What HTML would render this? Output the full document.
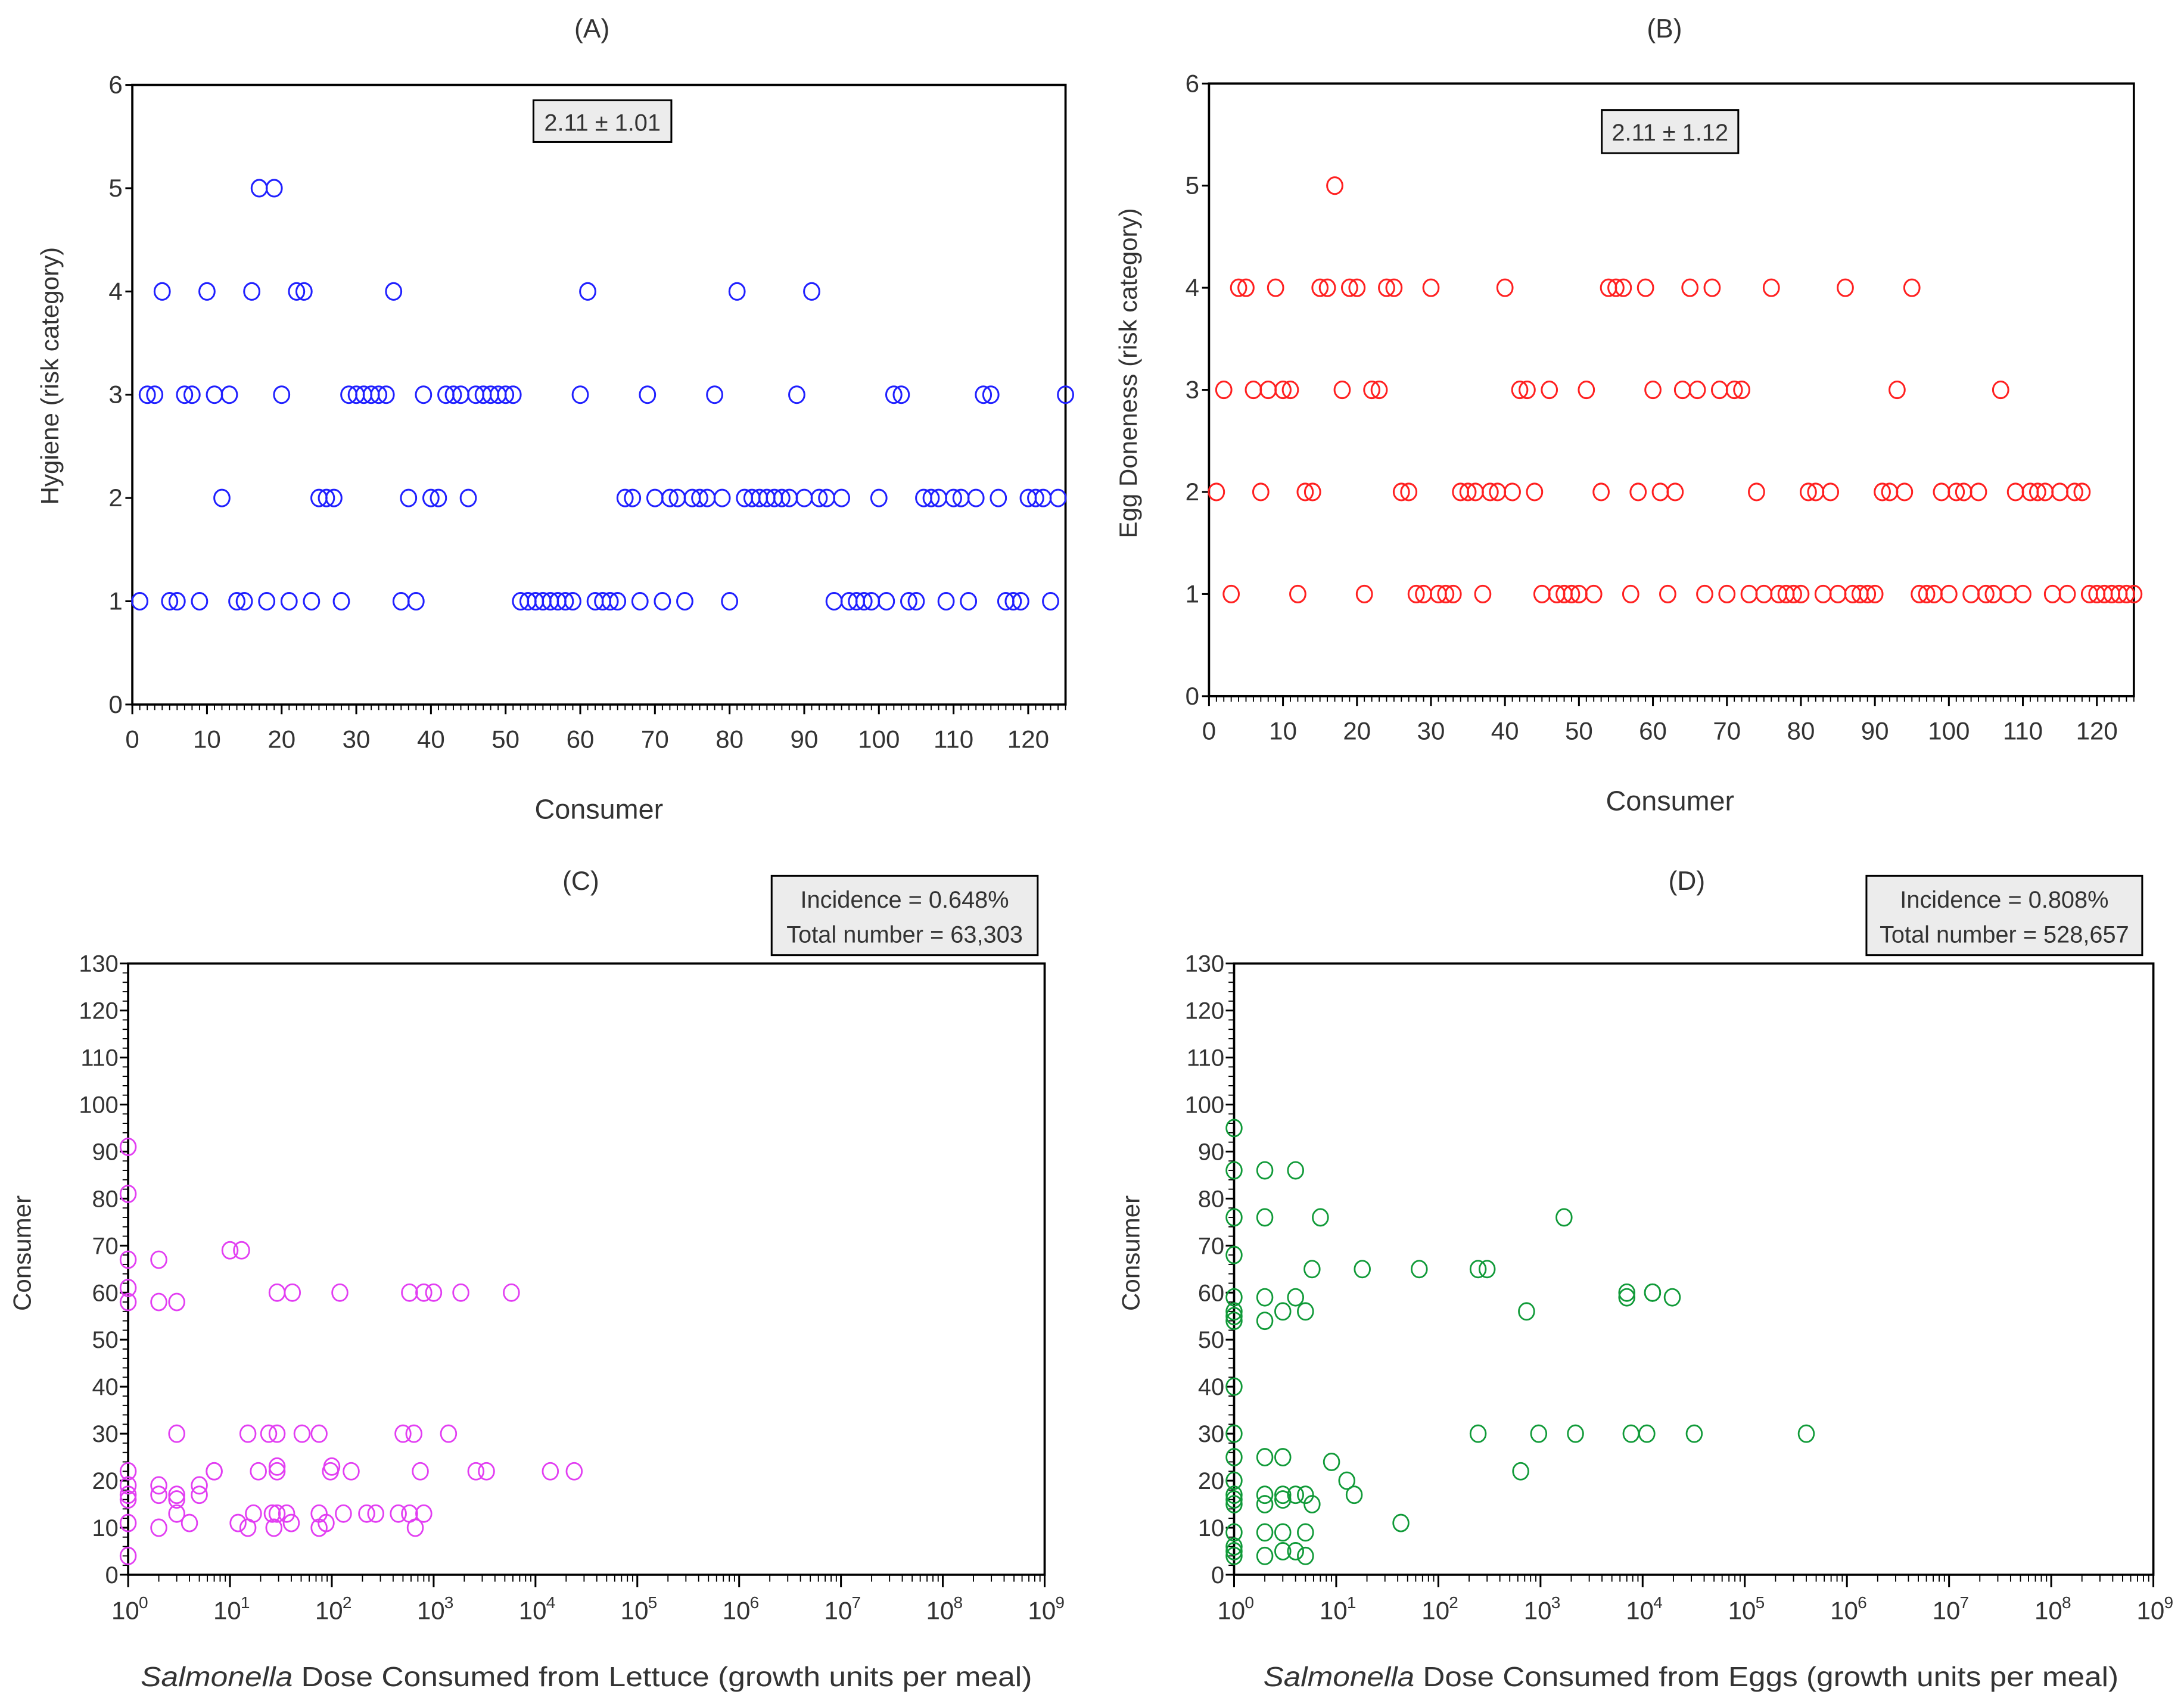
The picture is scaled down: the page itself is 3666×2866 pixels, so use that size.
<!DOCTYPE html>
<html><head><meta charset="utf-8"><style>
html,body{margin:0;padding:0;background:#fff;}
svg{display:block;}
text{font-family:"Liberation Sans",sans-serif;fill:#333;}
</style></head><body>
<svg id="fig" xmlns="http://www.w3.org/2000/svg" width="3666" height="2866" viewBox="0 0 1568 1226" preserveAspectRatio="none">
<rect x="0" y="0" width="1568" height="1226" fill="#fff"/>
<text x="425" y="27" font-size="19" text-anchor="middle">(A)</text>
<text x="1195" y="27" font-size="19" text-anchor="middle">(B)</text>
<text x="417" y="639" font-size="19" text-anchor="middle">(C)</text>
<text x="1211" y="639" font-size="19" text-anchor="middle">(D)</text>
<text x="430" y="588" font-size="20" text-anchor="middle">Consumer</text>
<text x="1199" y="582" font-size="20" text-anchor="middle">Consumer</text>
<text transform="translate(42,270) rotate(-90)" font-size="18" text-anchor="middle">Hygiene (risk category)</text>
<text transform="translate(816,268) rotate(-90)" font-size="18" text-anchor="middle">Egg Doneness (risk category)</text>
<text transform="translate(22,900) rotate(-90)" font-size="18" text-anchor="middle">Consumer</text>
<text transform="translate(818,900) rotate(-90)" font-size="18" text-anchor="middle">Consumer</text>
<text x="421" y="1211" font-size="20" text-anchor="middle" textLength="640" lengthAdjust="spacingAndGlyphs"><tspan font-style="italic">Salmonella</tspan> Dose Consumed from Lettuce (growth units per meal)</text>
<text x="1214" y="1211" font-size="20" text-anchor="middle" textLength="614" lengthAdjust="spacingAndGlyphs"><tspan font-style="italic">Salmonella</tspan> Dose Consumed from Eggs (growth units per meal)</text>
<g><rect x="383" y="72" width="99" height="30" fill="#ececec" stroke="#000" stroke-width="1.3"/><text x="432.5" y="94" font-size="17" text-anchor="middle">2.11 ± 1.01</text></g>
<g><rect x="1150" y="79" width="98" height="31" fill="#ececec" stroke="#000" stroke-width="1.3"/><text x="1199" y="101" font-size="17" text-anchor="middle">2.11 ± 1.12</text></g>
<g><rect x="554" y="629" width="191" height="57" fill="#ececec" stroke="#000" stroke-width="1.3"/><text x="649.5" y="652" font-size="17" text-anchor="middle">Incidence = 0.648%</text><text x="649.5" y="677" font-size="17" text-anchor="middle">Total number = 63,303</text></g>
<g><rect x="1340" y="629" width="198" height="57" fill="#ececec" stroke="#000" stroke-width="1.3"/><text x="1439" y="652" font-size="17" text-anchor="middle">Incidence = 0.808%</text><text x="1439" y="677" font-size="17" text-anchor="middle">Total number = 528,657</text></g>
</svg>
<script>
// Panel A: consumers at each hygiene level
const aLevel5 = [17,19];
const aLevel4 = [4,10,16,22,23,35,61,81,91];
const aLevel3 = [2,3,7,8,11,13,20,29,30,31,32,33,34,39,42,43,44,46,47,48,49,50,51,60,69,78,89,102,103,114,115,125];
const aLevel2 = [12,25,26,27,37,40,41,45,66,67,70,72,73,75,76,77,79,82,83,84,85,86,87,88,90,92,93,95,100,106,107,108,110,111,113,116,120,121,122,124];
const aLevel1 = [1,5,6,9,14,15,18,21,24,28,36,38,52,53,54,55,56,57,58,59,62,63,64,65,68,71,74,80,94,96,97,98,99,101,104,105,109,112,117,118,119,123];
// Panel B: consumers at each egg doneness level
const bLevel5 = [17];
const bLevel4 = [4,5,9,15,16,19,20,24,25,30,40,54,55,56,59,65,68,76,86,95];
const bLevel3 = [2,6,8,10,11,18,22,23,42,43,46,51,60,64,66,69,71,72,93,107];
const bLevel2 = [1,7,13,14,26,27,34,35,36,38,39,41,44,53,58,61,63,74,81,82,84,91,92,94,99,101,102,104,109,111,112,113,115,117,118];
const bLevel1 = [3,12,21,28,29,31,32,33,37,45,47,48,49,50,52,57,62,67,70,73,75,77,78,79,80,83,85,87,88,89,90,96,97,98,100,103,105,106,108,110,114,116,119,120,121,122,123,124,125];
// Panel C: lettuce doses and consumers
const cDose = [1,1,1,1,1,1,1,1,1,1,1, 2,2,2,2,2, 3,3,3,3,3, 4,5,5,7, 10,13,
  15,24,29,51,75,500,640,1400,
  29,41,120,580,800,1000,1850,5800,
  7,19,29,97,155,740,2600,3300,14000,24000, 29,100,
  17,26,29,36,75,130,220,270,450,580,800,
  12,15,27,40,75,88,660];
const cConsumer = [91,81,67,61,58,22,19,17,16,11,4, 67,58,19,17,10, 58,30,17,16,13, 11,19,17,22, 69,69,
  30,30,30,30,30,30,30,30,
  60,60,60,60,60,60,60,60,
  22,22,22,22,22,22,22,22,22,22, 23,23,
  13,13,13,13,13,13,13,13,13,13,13,
  11,10,10,11,10,11,10];
// Panel D: egg doses and consumers
const dDose = [1,1,1,1,1,1,1,1,1,1,1,1,1,1,1,1,1,1,1,
  2,2,2,2,2,2,2,2,2, 3,3,3,3,3,3, 4,4,4,4, 5,5,5,5, 5.8,5.8, 7,9,12.7,15,18,43,65,245,245,300,640,730,960,1700,2200,7000,7000,7700,11000,12500,12500,19500,32000,400000];
const dConsumer = [95,86,76,68,59,56,55,54,40,30,25,20,17,16,15,9,6,5,4,
  86,76,59,54,25,17,15,9,4, 56,25,17,16,9,5, 86,59,17,5, 56,17,9,4, 65,15, 76,24,20,17,65,11,65,65,30,65,22,56,30,76,30,60,59,30,30,60,60,59,30,30];
const aYTicks = [0,1,2,3,4,5,6];
const xTicksCons = [0,10,20,30,40,50,60,70,80,90,100,110,120];
const cYTicks = [0,10,20,30,40,50,60,70,80,90,100,110,120,130];
const logTicks = [0,1,2,3,4,5,6,7,8,9];

const NS = 'http://www.w3.org/2000/svg';
const svg = document.getElementById('fig');
function mk(tag, attrs, parent){
  const e = document.createElementNS(NS, tag);
  for (const k in attrs) e.setAttribute(k, attrs[k]);
  (parent||svg).appendChild(e);
  return e;
}
function linScale(d0,d1,r0,r1){return v => r0 + (v-d0)/(d1-d0)*(r1-r0);}
function logScale(e0,e1,r0,r1){return v => r0 + (Math.log10(v)-e0)/(e1-e0)*(r1-r0);}

function frame(name, L,T,R,B){
  const g = mk('g',{});
  
  
  mk('rect',{x:L,y:T,width:R-L,height:B-T,fill:'none',stroke:'#000','stroke-width':1.6},g);
  return g;
}

function catPanel(p, L,T,R,B, levels, color, tickY){
  const x = linScale(0,125,L,R), y = linScale(0,6,B,T);
  frame('panel-'+p+'-plot-area', L,T,R,B);
  const ax = mk('g',{});
  
  
  aYTicks.forEach(v=>{
    mk('line',{x1:L-5,x2:L,y1:y(v),y2:y(v),stroke:'#000','stroke-width':1.3},ax);
    const t = mk('text',{x:L-7,y:y(v)+6,'font-size':18,'text-anchor':'end'},ax);
    t.textContent = v;
  });
  for(let i=0;i<=125;i++){
    const major = i%10===0;
    mk('line',{x1:x(i),x2:x(i),y1:B,y2:B+(major?7:4),stroke:'#000','stroke-width':major?1.3:0.8},ax);
  }
  xTicksCons.forEach(v=>{
    const t = mk('text',{x:x(v),y:tickY,'font-size':18,'text-anchor':'middle'},ax);
    t.textContent = v;
  });
  const pts = mk('g',{});
  
  
  levels.forEach((arr,li)=>{
    const lvl = levels.length - li;
    arr.forEach(c=>{
      const e = mk('ellipse',{cx:x(c),cy:y(lvl),rx:5.5,ry:6,fill:'none',stroke:color,'stroke-width':1.3},pts);
      
      
    });
  });
}

function logPanel(p, L,T,R,B, doses, cons, color){
  const x = logScale(0,9,L,R), y = linScale(0,130,B,T);
  frame('panel-'+p+'-plot-area', L,T,R,B);
  const ax = mk('g',{});
  
  
  for(let v=0; v<=130; v+=2){
    const major = v%10===0;
    mk('line',{x1:L-(major?6:4),x2:L,y1:y(v),y2:y(v),stroke:'#000','stroke-width':major?1.3:0.8},ax);
  }
  cYTicks.forEach(v=>{
    const t = mk('text',{x:L-7,y:y(v)+6,'font-size':17,'text-anchor':'end'},ax);
    t.textContent = v;
  });
  logTicks.forEach(e=>{
    mk('line',{x1:x(Math.pow(10,e)),x2:x(Math.pow(10,e)),y1:B,y2:B+9,stroke:'#000','stroke-width':1.3},ax);
    if(e<9) for(let m=2;m<=9;m++){
      const xv = x(m*Math.pow(10,e));
      mk('line',{x1:xv,x2:xv,y1:B,y2:B+5,stroke:'#000','stroke-width':0.8},ax);
    }
    const t = mk('text',{x:x(Math.pow(10,e))-2,y:B+32,'font-size':18,'text-anchor':'middle'},ax);
    t.textContent = '10';
    const s = mk('text',{x:x(Math.pow(10,e))+11,y:B+24,'font-size':12,'text-anchor':'middle'},ax);
    s.textContent = e;
  });
  const pts = mk('g',{});
  
  
  doses.forEach((d,i)=>{
    const e = mk('ellipse',{cx:x(d),cy:y(cons[i]),rx:5.5,ry:6,fill:'none',stroke:color,'stroke-width':1.2},pts);
    
    
  });
}

catPanel('a', 95,61,765,506, [aLevel5,aLevel4,aLevel3,aLevel2,aLevel1], '#2020ff', 537);
catPanel('b', 868,60,1532,500, [bLevel5,bLevel4,bLevel3,bLevel2,bLevel1], '#ff2020', 531);
logPanel('c', 92,692,750,1131, cDose, cConsumer, '#e23ef2');
logPanel('d', 886,692,1546,1131, dDose, dConsumer, '#109a38');
</script>
</body></html>
